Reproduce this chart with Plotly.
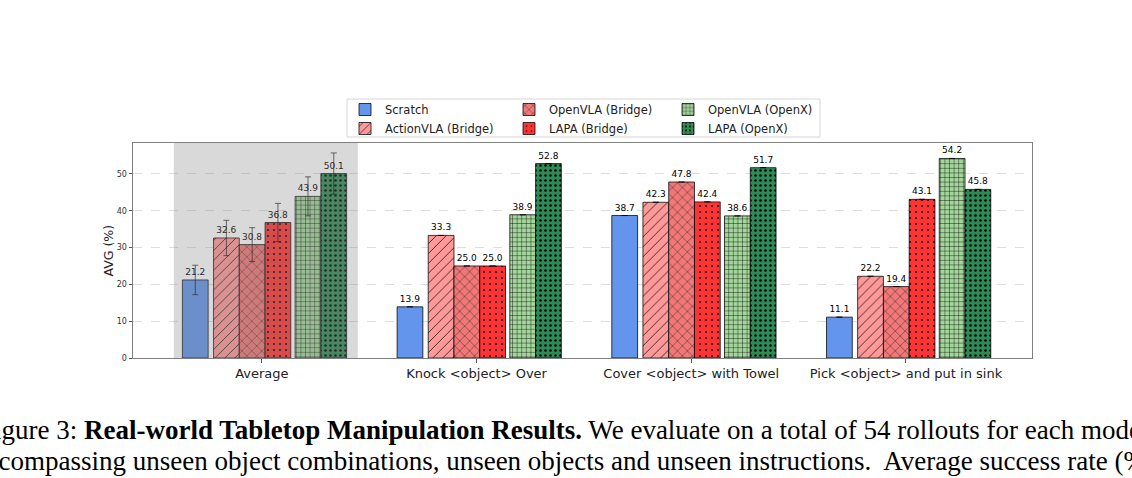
import plotly.graph_objects as go

# ---------------- data ----------------
categories = ["Average", "Knock <object> Over", "Cover <object> with Towel",
              "Pick <object> and put in sink"]
series_names = ["Scratch", "ActionVLA (Bridge)", "OpenVLA (Bridge)",
                "LAPA (Bridge)", "OpenVLA (OpenX)", "LAPA (OpenX)"]
scratch = [21.2, 13.9, 38.7, 11.1]
actionvla_bridge = [32.6, 33.3, 42.3, 22.2]
openvla_bridge = [30.8, 25.0, 47.8, 19.4]
lapa_bridge = [36.8, 25.0, 42.4, 43.1]
openvla_openx = [43.9, 38.9, 38.6, 54.2]
lapa_openx = [50.1, 52.8, 51.7, 45.8]
# error bars (only on the "Average" group)
average_err = [4.0, 4.8, 4.6, 5.2, 5.3, 5.6]
y_ticks = [0, 10, 20, 30, 40, 50]

values = [scratch, actionvla_bridge, openvla_bridge, lapa_bridge,
          openvla_openx, lapa_openx]

# ---------------- styles ----------------
offsets = [-0.31, -0.165, -0.045, 0.075, 0.215, 0.335]
bar_w = 0.12
colors = ["#6495ED", "#FF9999", "#F07878", "#FF3333", "#A3D69B", "#2E8B57"]
patterns = [
    dict(shape=""),
    dict(shape="/", size=7, solidity=0.1),
    dict(shape="x", size=7, solidity=0.1),
    dict(shape=".", size=6, solidity=0.09),
    dict(shape="+", size=4.6, solidity=0.16),
    dict(shape=".", size=5, solidity=0.2),
]
legend_ids = ["legend", "legend", "legend2", "legend2", "legend3", "legend3"]

fig = go.Figure()
n = len(categories)
for i, name in enumerate(series_names):
    pat = dict(patterns[i])
    if pat["shape"]:
        pat.update(fgcolor="black", bgcolor=colors[i], fillmode="replace")
    err = [average_err[i]] + [None] * (n - 1)
    fig.add_trace(go.Bar(
        name=name,
        x=[k + offsets[i] for k in range(n)],
        y=values[i],
        width=bar_w,
        marker=dict(color=colors[i], pattern=pat,
                    line=dict(color="rgba(0,0,0,0.75)", width=1)),
        text=values[i],
        texttemplate="%{y:.1f}",
        textposition="outside",
        textfont=dict(size=9, family="DejaVu Sans", color="black"),
        constraintext="none",
        cliponaxis=False,
        error_y=dict(type="data", array=err, visible=True,
                     color="rgba(0,0,0,0.65)", thickness=1, width=3),
        legend=legend_ids[i],
    ))

# plot-area geometry
L, R, T, B = 133, 1032, 143, 358
W, H = 1132, 478

fig.update_layout(
    width=W, height=H,
    margin=dict(l=L, r=W - R, t=T, b=H - B, pad=0, autoexpand=False),
    paper_bgcolor="white", plot_bgcolor="white",
    barmode="overlay",
    font=dict(family="DejaVu Sans", color="#222"),
    xaxis=dict(
        range=[-0.6, 3.587],
        tickvals=list(range(n)), ticktext=categories,
        tickfont=dict(size=13, color="#222"),
        ticks="outside", ticklen=3.5, tickcolor="#555",
        showgrid=False, zeroline=False,
        showline=True, linecolor="#808080", linewidth=1, mirror=True,
        automargin=False,
    ),
    yaxis=dict(
        range=[0, 58.4],
        tickvals=y_ticks,
        tickfont=dict(size=8, color="#333"),
        ticks="outside", ticklen=3.5, tickcolor="#555",
        showgrid=True, gridcolor="rgba(0,0,0,0.13)", griddash="dash",
        gridwidth=0.8,
        zeroline=False,
        showline=True, linecolor="#808080", linewidth=1, mirror=True,
        automargin=False,
    ),
    showlegend=True,
)

legend_common = dict(xref="container", yref="container", xanchor="left",
                     yanchor="top", orientation="v",
                     bgcolor="rgba(0,0,0,0)", borderwidth=0,
                     tracegroupgap=0, itemwidth=30,
                     font=dict(size=11.5, family="DejaVu Sans", color="#222"))
fig.update_layout(
    legend=dict(x=345 / W, y=1 - 95 / H, **legend_common),
    legend2=dict(x=509 / W, y=1 - 95 / H, **legend_common),
    legend3=dict(x=668 / W, y=1 - 95 / H, **legend_common),
)

pw, ph = R - L, B - T
def px(xp):
    return (xp - L) / pw
def py(yp):
    return (B - yp) / ph

# y-axis title
fig.add_annotation(xref="paper", yref="paper", x=px(108), y=0.5,
                   xanchor="center", yanchor="middle", textangle=-90,
                   showarrow=False, text="AVG (%)",
                   font=dict(size=12.5, family="DejaVu Sans", color="#222"))

# legend frame
fig.add_shape(type="rect", xref="paper", yref="paper",
              x0=px(347), x1=px(820), y0=py(137), y1=py(99),
              line=dict(color="#d6d6d6", width=1), fillcolor="white",
              layer="below")

# gray highlight of the Average group (drawn over the bars, semi-transparent)
fig.add_shape(type="rect", xref="x", yref="paper",
              x0=-0.41, x1=0.447, y0=0, y1=1,
              fillcolor="gray", opacity=0.3, line=dict(width=0),
              layer="above")

# figure caption (cropped page)
cap_font = dict(family="Liberation Serif", size=27, color="black")
fig.add_annotation(
    xref="paper", yref="paper", x=px(-23), y=py(430),
    xanchor="left", yanchor="middle", showarrow=False, font=cap_font,
    text="Figure 3: <b>Real-world Tabletop Manipulation Results.</b> "
         "We evaluate on a total of 54 rollouts for each model,")
fig.add_annotation(
    xref="paper", yref="paper", x=px(-29), y=py(461),
    xanchor="left", yanchor="middle", showarrow=False, font=cap_font,
    text="encompassing unseen object combinations, unseen objects and "
         "unseen instructions.&nbsp; Average success rate (%)")

fig.write_html("out.html")
